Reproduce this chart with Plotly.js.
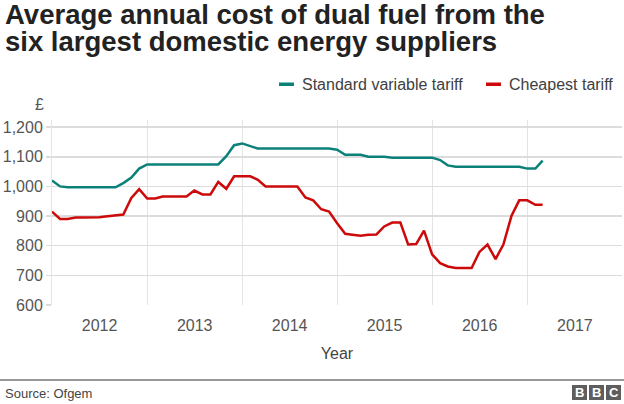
<!DOCTYPE html>
<html>
<head>
<meta charset="utf-8">
<script src="https://cdn.plot.ly/plotly-3.0.1.min.js"></script>
<style>html,body{margin:0;padding:0;background:#fff;}#chart{width:624px;height:404px;}</style>
</head>
<body>
<div id="chart"></div>
<script>
// ---- Data (monthly) ----
const months = [
  "2012-01-01","2012-02-01","2012-03-01","2012-04-01","2012-05-01","2012-06-01","2012-07-01","2012-08-01","2012-09-01","2012-10-01","2012-11-01","2012-12-01",
  "2013-01-01","2013-02-01","2013-03-01","2013-04-01","2013-05-01","2013-06-01","2013-07-01","2013-08-01","2013-09-01","2013-10-01","2013-11-01","2013-12-01",
  "2014-01-01","2014-02-01","2014-03-01","2014-04-01","2014-05-01","2014-06-01","2014-07-01","2014-08-01","2014-09-01","2014-10-01","2014-11-01","2014-12-01",
  "2015-01-01","2015-02-01","2015-03-01","2015-04-01","2015-05-01","2015-06-01","2015-07-01","2015-08-01","2015-09-01","2015-10-01","2015-11-01","2015-12-01",
  "2016-01-01","2016-02-01","2016-03-01","2016-04-01","2016-05-01","2016-06-01","2016-07-01","2016-08-01","2016-09-01","2016-10-01","2016-11-01","2016-12-01",
  "2017-01-01","2017-02-01","2017-03-01"
];
const standardVariable = [
  1020,1000,997,997,997,997,997,997,997,1011,1030,1060,
  1074,1074,1074,1074,1074,1074,1074,1074,1074,1074,1102,1139,
  1145,1136,1128,1128,1128,1128,1128,1128,1128,1128,1128,1128,
  1124,1107,1107,1107,1100,1100,1100,1097,1097,1097,1097,1097,
  1097,1089,1071,1066,1066,1066,1066,1066,1066,1066,1066,1066,
  1060,1060,1087
];
const cheapest = [
  915,890,890,895,895,895,896,899,901,905,961,991,
  959,959,966,966,966,966,986,973,973,1015,992,1034,
  1034,1034,1023,1000,1000,1000,1000,1000,963,953,923,915,
  876,840,837,834,837,838,865,878,878,804,806,851,
  771,741,730,725,725,725,779,804,755,804,900,953,
  953,938,938
];
const seriesNames = ["Standard variable tariff", "Cheapest tariff"];
const yTicks = [600, 700, 800, 900, 1000, 1100, 1200];
const titleLines = ["Average annual cost of dual fuel from the", "six largest domestic energy suppliers"];

// ---- Styling / layout ----
const W = 624, H = 404;
const M = {l: 52, r: 2, t: 120, b: 99};
const PW = W - M.l - M.r, PH = H - M.t - M.b;
const fx = px => (px - M.l) / PW;       // pixel -> paper x
const fy = py => (H - M.b - py) / PH;   // pixel -> paper y
const teal = "#0b8179", red = "#cc0a0a";
const FONT = "Liberation Sans, Arial, Helvetica, sans-serif";

const traces = [
  {x: months, y: standardVariable, name: seriesNames[0], type: "scatter", mode: "lines",
   line: {color: teal, width: 2.5}, showlegend: false, hoverinfo: "skip"},
  {x: months, y: cheapest, name: seriesNames[1], type: "scatter", mode: "lines",
   line: {color: red, width: 2.5}, showlegend: false, hoverinfo: "skip"}
];

const titleFont = {family: FONT, size: 27.5, color: "#222", weight: "bold"};

const layout = {
  width: W, height: H,
  margin: M,
  paper_bgcolor: "#fff", plot_bgcolor: "#fff",
  font: {family: FONT, size: 16, color: "#555"},
  xaxis: {
    type: "date",
    range: ["2012-01-01", "2017-12-31"],
    tick0: "2012-01-01", dtick: "M12",
    tickformat: "%Y", ticklabelmode: "period",
    showgrid: true, gridcolor: "#e4e4e4", gridwidth: 1,
    zeroline: false, showline: false, ticks: "",
    ticklabelstandoff: 9,
    tickfont: {size: 16, color: "#555"},
    title: {text: "Year", font: {size: 16, color: "#444"}, standoff: 14}
  },
  yaxis: {
    range: [600, 1224],
    tickvals: yTicks, tickformat: ",d",
    showgrid: true, gridcolor: "#dcdcdc", gridwidth: 1.5,
    zeroline: false, showline: true, linecolor: "#e4e4e4", linewidth: 1,
    ticks: "outside", ticklen: 5, tickcolor: "#dcdcdc", tickwidth: 1.5,
    tickfont: {size: 16, color: "#555"}
  },
  shapes: [
    // legend swatches
    {type: "rect", xref: "paper", yref: "paper", x0: fx(279), x1: fx(294), y0: fy(86), y1: fy(82.5),
     fillcolor: teal, line: {width: 0}},
    {type: "rect", xref: "paper", yref: "paper", x0: fx(486), x1: fx(501), y0: fy(86), y1: fy(82.5),
     fillcolor: red, line: {width: 0}},
    // footer rule
    {type: "line", xref: "paper", yref: "paper", x0: fx(0), x1: fx(624), y0: fy(380), y1: fy(380),
     line: {color: "#333", width: 1}},
    // BBC blocks
    {type: "rect", xref: "paper", yref: "paper", x0: fx(572), x1: fx(587), y0: fy(400), y1: fy(385), fillcolor: "#5e5e5e", line: {width: 0}},
    {type: "rect", xref: "paper", yref: "paper", x0: fx(589), x1: fx(604), y0: fy(400), y1: fy(385), fillcolor: "#5e5e5e", line: {width: 0}},
    {type: "rect", xref: "paper", yref: "paper", x0: fx(606), x1: fx(621), y0: fy(400), y1: fy(385), fillcolor: "#5e5e5e", line: {width: 0}}
  ],
  annotations: [
    {text: titleLines[0], xref: "paper", yref: "paper", x: fx(3), y: fy(14.5), xanchor: "left", yanchor: "middle",
     showarrow: false, font: titleFont},
    {text: titleLines[1], xref: "paper", yref: "paper", x: fx(3), y: fy(41.5), xanchor: "left", yanchor: "middle",
     showarrow: false, font: titleFont},
    {text: seriesNames[0], xref: "paper", yref: "paper", x: fx(300), y: fy(85), xanchor: "left", yanchor: "middle",
     showarrow: false, font: {size: 16, color: "#404040"}},
    {text: seriesNames[1], xref: "paper", yref: "paper", x: fx(507), y: fy(85), xanchor: "left", yanchor: "middle",
     showarrow: false, font: {size: 16, color: "#404040"}},
    {text: "£", xref: "paper", yref: "paper", x: fx(39), y: fy(105), xanchor: "center", yanchor: "middle",
     showarrow: false, font: {size: 16, color: "#555"}},
    {text: "Source: Ofgem", xref: "paper", yref: "paper", x: fx(3), y: fy(393), xanchor: "left", yanchor: "middle",
     showarrow: false, font: {size: 13, color: "#444"}},
    {text: "B", xref: "paper", yref: "paper", x: fx(579.5), y: fy(392.5), xanchor: "center", yanchor: "middle",
     showarrow: false, font: {size: 13, color: "#fff", weight: "bold"}},
    {text: "B", xref: "paper", yref: "paper", x: fx(596.5), y: fy(392.5), xanchor: "center", yanchor: "middle",
     showarrow: false, font: {size: 13, color: "#fff", weight: "bold"}},
    {text: "C", xref: "paper", yref: "paper", x: fx(613.5), y: fy(392.5), xanchor: "center", yanchor: "middle",
     showarrow: false, font: {size: 13, color: "#fff", weight: "bold"}}
  ]
};

Plotly.newPlot("chart", traces, layout, {staticPlot: true, displayModeBar: false});
</script>
</body>
</html>
